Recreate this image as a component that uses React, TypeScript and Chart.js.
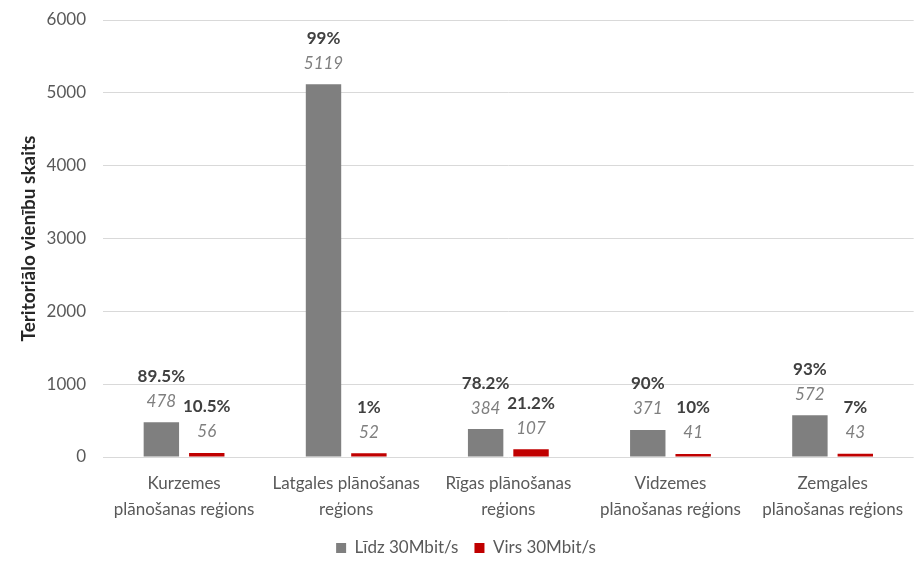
import React, { useEffect, useRef } from "react";
import { Chart, registerables } from "chart.js";

Chart.register(...registerables);

const categories: string[][] = [
  ["Kurzemes", "plānošanas reģions"],
  ["Latgales plānošanas", "reģions"],
  ["Rīgas plānošanas", "reģions"],
  ["Vidzemes", "plānošanas reģions"],
  ["Zemgales", "plānošanas reģions"],
];
const seriesNames = ["Līdz 30Mbit/s", "Virs 30Mbit/s"];
const below30 = [478, 5119, 384, 371, 572];
const above30 = [56, 52, 107, 41, 43];
const below30Pct = ["89.5%", "99%", "78.2%", "90%", "93%"];
const above30Pct = ["10.5%", "1%", "21.2%", "10%", "7%"];
const yTitle = "Teritoriālo vienību skaits";

const FONT = "Lato, 'Open Sans', sans-serif";

const labelPlugin = {
  id: "barLabels",
  afterDatasetsDraw(chart: any) {
    const ctx = chart.ctx;
    const pcts = [below30Pct, above30Pct];
    chart.data.datasets.forEach((ds: any, di: number) => {
      const meta = chart.getDatasetMeta(di);
      meta.data.forEach((bar: any, i: number) => {
        ctx.save();
        ctx.textAlign = "center";
        ctx.textBaseline = "middle";
        ctx.fillStyle = "#7f7f7f";
        ctx.font = `italic 17px ${FONT}`;
        ctx.fillText(String(ds.data[i]), bar.x, bar.y - 21);
        ctx.fillStyle = "#404040";
        ctx.font = `bold 17px ${FONT}`;
        ctx.fillText(pcts[di][i], bar.x, bar.y - 46);
        ctx.restore();
      });
    });
  },
};

export default function App() {
  const ref = useRef<HTMLCanvasElement | null>(null);
  useEffect(() => {
    document.body.style.margin = "0";
    if (!ref.current) return;
    const chart = new Chart(ref.current, {
      type: "bar",
      data: {
        labels: categories,
        datasets: [
          {
            label: seriesNames[0],
            data: below30,
            backgroundColor: "#7f7f7f",
            categoryPercentage: 0.56,
            barPercentage: 0.78,
          },
          {
            label: seriesNames[1],
            data: above30,
            backgroundColor: "#c00000",
            categoryPercentage: 0.56,
            barPercentage: 0.78,
          },
        ],
      },
      options: {
        animation: false,
        responsive: false,
        maintainAspectRatio: false,
        layout: { padding: { top: 20, right: 0, left: 15, bottom: 0 } },
        plugins: {
          legend: {
            position: "bottom",
            maxHeight: 40.5,
            labels: {
              boxWidth: 10,
              boxHeight: 10,
              padding: 16,
              color: "#595959",
              font: { family: FONT, size: 17 },
            },
          },
          tooltip: { enabled: false },
        },
        scales: {
          x: {
            grid: { display: false, drawTicks: false },
            border: { display: false },
            ticks: {
              color: "#595959",
              font: { family: FONT, size: 17, lineHeight: 1.5 },
              maxRotation: 0,
              padding: 14,
            },
            afterFit: (s: any) => {
              s.height = 66.5;
            },
          },
          y: {
            min: 0,
            max: 6000,
            ticks: {
              stepSize: 1000,
              color: "#595959",
              font: { family: FONT, size: 17 },
              padding: 17,
              callback: (v: any) => String(v),
            },
            grid: { color: "#d9d9d9", drawTicks: false },
            border: { display: false },
            title: {
              display: true,
              text: yTitle,
              color: "#262626",
              font: { family: FONT, size: 19, weight: "bold" },
              padding: { top: 2, bottom: 0 },
            },
            afterFit: (s: any) => {
              s.width = 88;
              s.paddingTop = 0;
              s.paddingBottom = 0;
            },
          },
        },
      },
      plugins: [labelPlugin],
    });
    return () => chart.destroy();
  }, []);
  return (
    <div style={{ width: 917, height: 564 }}>
      <canvas ref={ref} width={917} height={564} style={{ display: "block" }} />
    </div>
  );
}
